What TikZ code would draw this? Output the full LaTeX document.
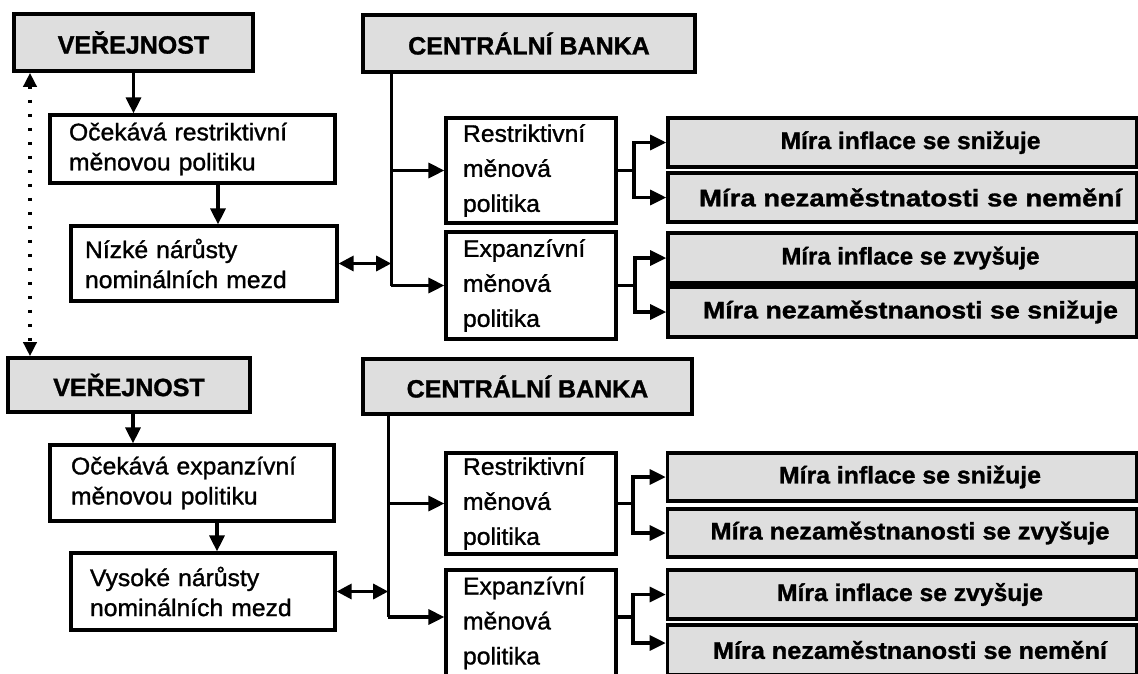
\documentclass[tikz,border=0pt]{standalone}
\usepackage{fontspec}
\usepackage{graphicx}
\setmainfont{Liberation Sans}
\newfontfamily\widefont[FakeStretch=1.03, FakeBold=1.2]{Liberation Sans}
\newfontfamily\heavyfont[FakeBold=1.2]{Liberation Sans Bold}
\usetikzlibrary{arrows.meta,calc}
\definecolor{boxgray}{RGB}{222,222,222}
\newcommand\rtext[2]{\hspace*{16pt}\resizebox{#1}{\height}{#2}}
\begin{document}
\begin{tikzpicture}[x=1pt,y=-1pt,
  graybox/.style={draw, line width=3.6pt, fill=boxgray, inner sep=0pt},
  whitebox/.style={draw, line width=3.2pt, fill=white, inner sep=0pt},
  titlebox/.style={graybox, font=\fontsize{25}{28}\selectfont\heavyfont},
  resbox/.style={graybox, minimum width=469pt, font=\fontsize{24}{26}\selectfont\heavyfont},
  lbox/.style={whitebox, align=left, font=\fontsize{24}{30}\selectfont\widefont},
  mbox/.style={whitebox, align=left, font=\fontsize{24}{35}\selectfont\widefont,
    minimum width=170pt, text width=136pt, inner xsep=17pt},
  conn/.style={line width=3.2pt},
  arr/.style={conn, -{Triangle[length=16pt,width=15pt]}},
  darr/.style={conn, {Triangle[length=15pt,width=15pt]}-{Triangle[length=15pt,width=15pt]}},
  dotarr/.style={line width=3.6pt, dash pattern=on 3pt off 11pt,
    {Triangle[length=14pt,width=13pt]}-{Triangle[length=14pt,width=13pt]}},
]
\useasboundingbox (0,0) rectangle (1138,673);
\clip (0,0) rectangle (1138,673);

% ---------- top half ----------
\node[titlebox, minimum width=239pt, minimum height=57pt] (V1) at (133.5,42.5) {VEŘEJNOST};
\node[titlebox, minimum width=332pt, minimum height=57pt] (CB1) at (529,43.5) {CENTRÁLNÍ BANKA};
\node[lbox, minimum width=285pt, text width=247pt, inner xsep=19pt, minimum height=68pt] (O1) at (192.5,149)
  {Očekává restriktivní\\měnovou politiku};
\node[lbox, minimum width=266pt, text width=238pt, inner xsep=14pt, minimum height=75pt] (N1) at (204,263.5)
  {Nízké nárůsty\\nominálních mezd};
\node[mbox, minimum height=105pt] (R1) at (531,170.5) {Restriktivní\\měnová\\politika};
\node[mbox, minimum height=107pt] (E1) at (531,285.5) {Expanzívní\\měnová\\politika};
\node[resbox, minimum height=49pt] (M1) at (902.5,142.5) {\rtext{260pt}{Míra inflace se snižuje}};
\node[resbox, minimum height=49pt] (M2) at (902.5,197.5) {\rtext{423pt}{Míra nezaměstnatosti se nemění}};
\node[resbox, minimum height=50pt] (M3) at (902.5,258) {\rtext{258pt}{Míra inflace se zvyšuje}};
\node[resbox, minimum height=50pt] (M4) at (902.5,312) {\rtext{415pt}{Míra nezaměstnanosti se snižuje}};

\coordinate (T1a) at ($(CB1.south west)+(30,0)$);
\coordinate (T1b) at (T1a |- E1.west);
\coordinate (J1) at (634,0);
\coordinate (J2) at (635,0);

\draw[arr] (V1.south) -- (V1.south |- O1.north);
\draw[arr] ([xshift=25.5pt]O1.south) -- ([xshift=25.5pt]O1.south |- N1.north);
\draw[conn] (T1a) -- (T1b);
\draw[arr] (T1a |- R1.west) -- (R1.west);
\draw[arr] (T1b) -- (E1.west);
\draw[darr] (N1.east) -- (T1a |- N1.east);
\draw[conn] (R1.east) -- (J1 |- R1.east);
\draw[arr] (J1 |- M1.west) -- (M1.west);
\draw[arr] (J1 |- M2.west) -- (M2.west);
\draw[conn, line cap=rect] (J1 |- M1.west) -- (J1 |- M2.west);
\draw[conn] (E1.east) -- (J2 |- E1.east);
\draw[arr] (J2 |- M3.west) -- (M3.west);
\draw[arr] (J2 |- M4.west) -- (M4.west);
\draw[conn, line cap=rect] (J2 |- M3.west) -- (J2 |- M4.west);

% ---------- bottom half ----------
\node[titlebox, minimum width=242pt, minimum height=54pt] (V2) at (129,385) {VEŘEJNOST};
\node[titlebox, minimum width=329pt, minimum height=55pt] (CB2) at (527.5,386.5) {CENTRÁLNÍ BANKA};
\node[lbox, minimum width=284pt, text width=242pt, inner xsep=21pt, minimum height=76pt] (O2) at (192,483)
  {Očekává expanzívní\\měnovou politiku};
\node[lbox, minimum width=264pt, text width=226pt, inner xsep=19pt, minimum height=77pt] (N2) at (203,591.5)
  {Vysoké nárůsty\\nominálních mezd};
\node[mbox, minimum height=101pt] (R2) at (531,503.5) {Restriktivní\\měnová\\politika};
\node[mbox, minimum height=106pt] (E2) at (531,623) {Expanzívní\\měnová\\politika};
\node[resbox, minimum height=48pt] (M5) at (902,477) {\rtext{262pt}{Míra inflace se snižuje}};
\node[resbox, minimum height=48pt] (M6) at (902,533) {\rtext{399pt}{Míra nezaměstnanosti se zvyšuje}};
\node[resbox, minimum height=49pt] (M7) at (902,594.5) {\rtext{266pt}{Míra inflace se zvyšuje}};
\node[resbox, minimum height=50pt] (M8) at (902,650) {\rtext{394pt}{Míra nezaměstnanosti se nemění}};

\coordinate (T2a) at ($(CB2.south west)+(27,0)$);
\coordinate (T2b) at ($(T2a |- E2.west)+(0,-6)$);
\coordinate (J3) at (633,0);

\draw[arr] ([xshift=4pt]V2.south) -- ([xshift=4pt]V2.south |- O2.north);
\draw[arr] ([xshift=25pt]O2.south) -- ([xshift=25pt]O2.south |- N2.north);
\draw[conn] (T2a) -- (T2b);
\draw[arr] (T2a |- R2.west) -- (R2.west);
\draw[arr] (T2b) -- (T2b -| E2.west);
\draw[darr] (N2.east) -- (T2a |- N2.east);
\draw[conn] (R2.east) -- (J3 |- R2.east);
\draw[arr] (J3 |- M5.west) -- (M5.west);
\draw[arr] (J3 |- M6.west) -- (M6.west);
\draw[conn, line cap=rect] (J3 |- M5.west) -- (J3 |- M6.west);
\coordinate (E2o) at ($(E2.east)+(0,-6)$);
\coordinate (M8in) at ($(M8.west)+(0,-7)$);
\draw[conn] (E2o) -- (J3 |- E2o);
\draw[arr] (J3 |- M7.west) -- (M7.west);
\draw[arr] (J3 |- M8in) -- (M8in);
\draw[conn, line cap=rect] (J3 |- M7.west) -- (J3 |- M8in);

% ---------- dotted link ----------
\draw[dotarr] (V1.south -| 30,0) -- (V2.north -| 30,0);
\end{tikzpicture}
\end{document}
